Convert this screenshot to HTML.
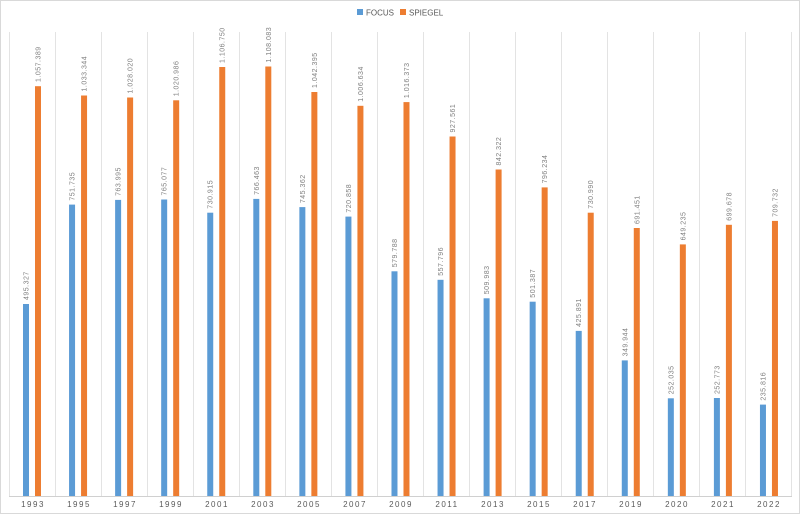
<!DOCTYPE html>
<html><head><meta charset="utf-8"><style>
html,body{margin:0;padding:0;background:#fff}
svg{display:block;font-family:"Liberation Sans",sans-serif}
.v{font-size:7px;fill:#808080;letter-spacing:0.5px}
.y{font-size:8px;fill:#595959;letter-spacing:1.5px;text-anchor:middle}
.b{fill:#5b9bd5}.o{fill:#ed7d31}
</style></head><body>
<svg width="800" height="514" viewBox="0 0 800 514">
<rect x="0.5" y="0.5" width="799" height="513" fill="#fff" stroke="#d9d9d9"/>
<g stroke="#e3e3e3" stroke-width="1">
<line x1="9.5" y1="32" x2="9.5" y2="496"/><line x1="55.5" y1="32" x2="55.5" y2="496"/><line x1="101.5" y1="32" x2="101.5" y2="496"/><line x1="147.5" y1="32" x2="147.5" y2="496"/><line x1="193.5" y1="32" x2="193.5" y2="496"/><line x1="239.5" y1="32" x2="239.5" y2="496"/><line x1="285.5" y1="32" x2="285.5" y2="496"/><line x1="331.5" y1="32" x2="331.5" y2="496"/><line x1="377.5" y1="32" x2="377.5" y2="496"/><line x1="423.5" y1="32" x2="423.5" y2="496"/><line x1="469.5" y1="32" x2="469.5" y2="496"/><line x1="515.5" y1="32" x2="515.5" y2="496"/><line x1="561.5" y1="32" x2="561.5" y2="496"/><line x1="607.5" y1="32" x2="607.5" y2="496"/><line x1="653.5" y1="32" x2="653.5" y2="496"/><line x1="699.5" y1="32" x2="699.5" y2="496"/><line x1="745.5" y1="32" x2="745.5" y2="496"/><line x1="791.5" y1="32" x2="791.5" y2="496"/>
</g>
<line x1="9" y1="496.5" x2="792" y2="496.5" stroke="#d0d0d0"/>
<rect x="357" y="9" width="6" height="6" class="b"/><text x="366" y="15.5" font-size="8" fill="#595959">FOCUS</text>
<rect x="400" y="9" width="6" height="6" class="o"/><text x="409" y="15.5" font-size="8" fill="#595959">SPIEGEL</text>

<rect class="b" x="23" y="304" width="6" height="192"/><rect class="o" x="35" y="86.2" width="6" height="409.8"/>
<rect class="b" x="69.06" y="204.6" width="6" height="291.4"/><rect class="o" x="81.06" y="95.5" width="6" height="400.5"/>
<rect class="b" x="115.12" y="199.9" width="6" height="296.1"/><rect class="o" x="127.12" y="97.5" width="6" height="398.5"/>
<rect class="b" x="161.18" y="199.5" width="6" height="296.5"/><rect class="o" x="173.18" y="100.3" width="6" height="395.7"/>
<rect class="b" x="207.24" y="212.7" width="6" height="283.3"/><rect class="o" x="219.24" y="67" width="6" height="429"/>
<rect class="b" x="253.3" y="198.9" width="6" height="297.1"/><rect class="o" x="265.3" y="66.5" width="6" height="429.5"/>
<rect class="b" x="299.36" y="207.1" width="6" height="288.9"/><rect class="o" x="311.36" y="92" width="6" height="404"/>
<rect class="b" x="345.42" y="216.6" width="6" height="279.4"/><rect class="o" x="357.42" y="105.8" width="6" height="390.2"/>
<rect class="b" x="391.48" y="271.3" width="6" height="224.7"/><rect class="o" x="403.48" y="102.1" width="6" height="393.9"/>
<rect class="b" x="437.54" y="279.8" width="6" height="216.2"/><rect class="o" x="449.54" y="136.5" width="6" height="359.5"/>
<rect class="b" x="483.6" y="298.3" width="6" height="197.7"/><rect class="o" x="495.6" y="169.5" width="6" height="326.5"/>
<rect class="b" x="529.66" y="301.7" width="6" height="194.3"/><rect class="o" x="541.66" y="187.4" width="6" height="308.6"/>
<rect class="b" x="575.72" y="330.9" width="6" height="165.1"/><rect class="o" x="587.72" y="212.7" width="6" height="283.3"/>
<rect class="b" x="621.78" y="360.4" width="6" height="135.6"/><rect class="o" x="633.78" y="228" width="6" height="268"/>
<rect class="b" x="667.84" y="398.3" width="6" height="97.7"/><rect class="o" x="679.84" y="244.4" width="6" height="251.6"/>
<rect class="b" x="713.9" y="398" width="6" height="98"/><rect class="o" x="725.9" y="224.8" width="6" height="271.2"/>
<rect class="b" x="759.96" y="404.6" width="6" height="91.4"/><rect class="o" x="771.96" y="220.9" width="6" height="275.1"/>

<g class="v">
<text transform="translate(28.5,300) rotate(-90)">495.327</text><text transform="translate(40.5,82) rotate(-90)">1.057.389</text>
<text transform="translate(74.5,200.6) rotate(-90)">751.735</text><text transform="translate(86.5,91.5) rotate(-90)">1.033.344</text>
<text transform="translate(120.6,195.9) rotate(-90)">763.995</text><text transform="translate(132.6,93.5) rotate(-90)">1.028.020</text>
<text transform="translate(166.7,195.5) rotate(-90)">765.077</text><text transform="translate(178.7,96.3) rotate(-90)">1.020.986</text>
<text transform="translate(212.7,208.7) rotate(-90)">730.915</text><text transform="translate(224.7,63) rotate(-90)">1.106.750</text>
<text transform="translate(258.8,194.9) rotate(-90)">766.463</text><text transform="translate(270.8,62.5) rotate(-90)">1.108.083</text>
<text transform="translate(304.9,203.1) rotate(-90)">745.362</text><text transform="translate(316.9,88) rotate(-90)">1.042.395</text>
<text transform="translate(350.9,212.6) rotate(-90)">720.858</text><text transform="translate(362.9,101.8) rotate(-90)">1.006.634</text>
<text transform="translate(397,267.3) rotate(-90)">579.788</text><text transform="translate(409,98.1) rotate(-90)">1.016.373</text>
<text transform="translate(443,275.8) rotate(-90)">557.796</text><text transform="translate(455,132.5) rotate(-90)">927.561</text>
<text transform="translate(489.1,294.3) rotate(-90)">509.983</text><text transform="translate(501.1,165.5) rotate(-90)">842.322</text>
<text transform="translate(535.2,297.7) rotate(-90)">501.387</text><text transform="translate(547.2,183.4) rotate(-90)">796.234</text>
<text transform="translate(581.2,326.9) rotate(-90)">425.891</text><text transform="translate(593.2,208.7) rotate(-90)">730.990</text>
<text transform="translate(627.3,356.4) rotate(-90)">349.944</text><text transform="translate(639.3,224) rotate(-90)">691.451</text>
<text transform="translate(673.3,394.3) rotate(-90)">252.035</text><text transform="translate(685.3,240.4) rotate(-90)">649.235</text>
<text transform="translate(719.4,394) rotate(-90)">252.773</text><text transform="translate(731.4,220.8) rotate(-90)">699.678</text>
<text transform="translate(765.5,400.6) rotate(-90)">235.816</text><text transform="translate(777.5,216.9) rotate(-90)">709.732</text>
</g>
<g class="y">
<text x="33" y="507">1993</text><text x="79" y="507">1995</text><text x="125" y="507">1997</text><text x="171" y="507">1999</text><text x="217" y="507">2001</text><text x="263" y="507">2003</text><text x="309" y="507">2005</text><text x="355" y="507">2007</text><text x="401" y="507">2009</text><text x="447" y="507">2011</text><text x="493" y="507">2013</text><text x="539" y="507">2015</text><text x="585" y="507">2017</text><text x="631" y="507">2019</text><text x="677" y="507">2020</text><text x="723" y="507">2021</text><text x="769" y="507">2022</text>
</g>
</svg>
</body></html>
